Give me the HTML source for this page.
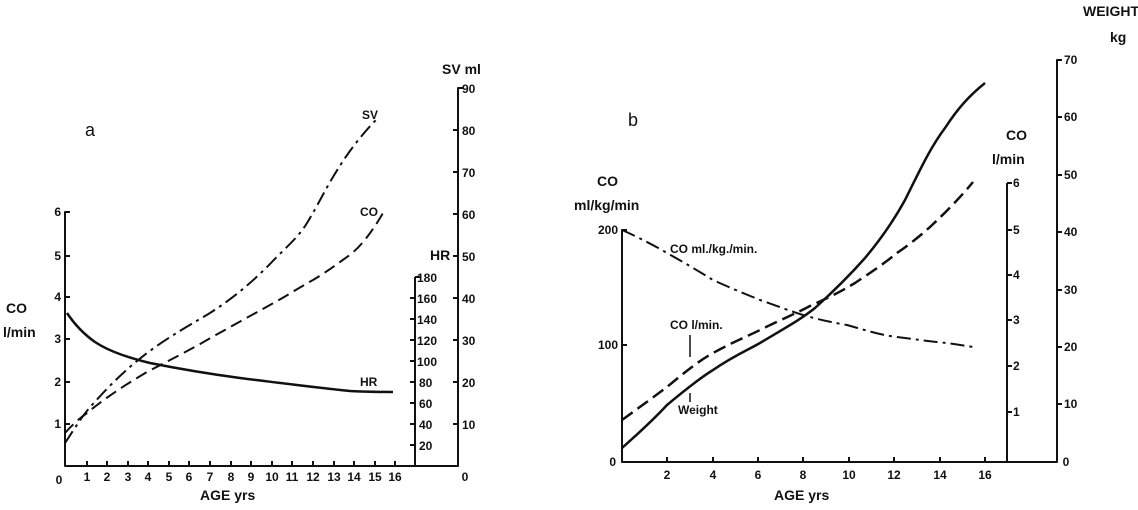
<!DOCTYPE html>
<html><head><meta charset="utf-8"><style>
html,body{margin:0;padding:0;background:#fff;}
svg{display:block;}
text{font-family:"Liberation Sans",sans-serif;font-weight:bold;fill:#111;}
.t{font-size:12px;}
.l{font-size:14px;}
</style></head><body>
<svg width="1138" height="510" viewBox="0 0 1138 510" xmlns="http://www.w3.org/2000/svg">
<g stroke="#111" stroke-width="2" fill="none" stroke-linejoin="round">
<polyline points="70,212 65,212 65,466 458,466 458,88 463,88"/>
<line x1="415" y1="466" x2="415" y2="277"/>
<line x1="415" y1="277" x2="420" y2="277"/>
<path d="M65,256h5M65,297h5M65,339h5M65,382h5M65,424h5"/>
<path d="M87,466v-5M107,466v-5M128,466v-5M148,466v-5M169,466v-5M189,466v-5M210,466v-5M231,466v-5M251,466v-5M272,466v-5M292,466v-5M313,466v-5M334,466v-5M354,466v-5M375,466v-5M395,466v-5"/>
<path d="M410,298h5M410,319h5M410,340h5M410,361h5M410,382h5M410,403h5M410,424h5M410,445h5"/>
<path d="M453,130h5M453,172h5M453,214h5M453,256h5M453,298h5M453,340h5M453,382h5M453,424h5"/>
<path stroke-dasharray="14,5,3,5" d="M65,443 C75,428 82,416 92,405 C110,385 125,370 147,353 C170,336 190,325 210,313 C235,297 252,282 270,264 C285,248 298,238 307,223 C318,205 325,190 333,177 C342,162 350,150 360,138 C368,128 373,123 378,118"/>
<path stroke-dasharray="12,6" d="M65,433 C72,425 80,418 87,413 C105,398 125,385 147,372 C170,360 190,350 207,340 C230,327 250,316 270,305 C290,294 300,287 313,280 C328,271 337,264 347,257 C360,248 372,232 383,213"/>
<path stroke-width="2.5" d="M67,313 C75,325 85,335 95,342 C110,352 130,358 150,363 C180,369 210,374 240,378 C280,383 320,388 350,391 C370,392 385,392 393,392"/>
<polyline points="627,230 622,230 622,462 1057,462 1057,60 1062,60"/>
<line x1="1007" y1="462" x2="1007" y2="183"/>
<line x1="1007" y1="183" x2="1012" y2="183"/>
<path d="M622,345h5"/>
<path d="M667,462v-5M713,462v-5M758,462v-5M803,462v-5M849,462v-5M894,462v-5M940,462v-5M985,462v-5"/>
<path d="M1007,412h5M1007,366h5M1007,320h5M1007,275h5M1007,230h5"/>
<path d="M1057,117h5M1057,175h5M1057,232h5M1057,290h5M1057,347h5M1057,404h5"/>
<path stroke-width="2.5" d="M622,448 C640,432 655,418 667,405 C685,390 700,378 713,370 C735,355 748,350 760,343 C785,328 800,320 815,308 C835,290 850,275 865,258 C880,240 893,222 905,200 C920,170 930,148 945,128 C958,108 970,95 985,83"/>
<path stroke-width="2.5" stroke-dasharray="13,6" d="M622,420 C640,407 655,396 667,387 C685,372 700,360 713,353 C735,341 748,336 760,330 C780,320 795,314 810,306 C830,297 840,292 855,283 C870,273 885,263 897,253 C910,244 920,236 930,227 C945,213 960,198 973,182"/>
<path stroke-dasharray="14,5,3,5" d="M622,230 C640,238 655,246 667,253 C685,263 700,272 713,280 C735,290 748,295 760,300 C780,307 790,311 803,315 C820,320 835,323 847,325 C865,330 880,335 897,337 C920,340 935,342 947,343 C960,345 968,346 973,347"/>
<line x1="690" y1="335" x2="690" y2="357" stroke-width="1.5"/>
<line x1="690" y1="393" x2="690" y2="402" stroke-width="1.5"/>
</g>
<text x="85" y="136" style="font-size:18px;font-weight:normal">a</text>
<g class="t" text-anchor="end">
<text x="61" y="216">6</text><text x="61" y="260">5</text><text x="61" y="301">4</text><text x="61" y="343">3</text><text x="61" y="386">2</text><text x="61" y="428">1</text>
</g>
<g class="t" text-anchor="middle">
<text x="59" y="484">0</text><text x="87" y="481">1</text><text x="107" y="481">2</text><text x="128" y="481">3</text><text x="148" y="481">4</text><text x="169" y="481">5</text><text x="189" y="481">6</text><text x="210" y="481">7</text><text x="231" y="481">8</text><text x="251" y="481">9</text><text x="272" y="481">10</text><text x="292" y="481">11</text><text x="313" y="481">12</text><text x="334" y="481">13</text><text x="354" y="481">14</text><text x="375" y="481">15</text><text x="395" y="481">16</text><text x="465" y="481">0</text>
</g>
<g class="t">
<text x="417" y="282">180</text><text x="417" y="303">160</text><text x="417" y="324">140</text><text x="417" y="345">120</text><text x="417" y="366">100</text><text x="419" y="387">80</text><text x="419" y="408">60</text><text x="419" y="429">40</text><text x="419" y="450">20</text>
<text x="462" y="93">90</text><text x="462" y="135">80</text><text x="462" y="177">70</text><text x="462" y="219">60</text><text x="462" y="261">50</text><text x="462" y="303">40</text><text x="462" y="345">30</text><text x="462" y="387">20</text><text x="462" y="429">10</text>
<text x="362" y="119">SV</text><text x="360" y="216">CO</text><text x="360" y="386">HR</text>
</g>
<text class="l" x="442" y="74">SV ml</text>
<text class="l" x="430" y="260">HR</text>
<text class="l" x="6" y="313">CO</text>
<text class="l" x="3" y="337">l/min</text>
<text class="l" x="200" y="500">AGE yrs</text>
<text x="628" y="126" style="font-size:18px;font-weight:normal">b</text>
<text class="l" x="597" y="186">CO</text>
<text class="l" x="574" y="210">ml/kg/min</text>
<text class="l" x="1006" y="140">CO</text>
<text class="l" x="992" y="164">l/min</text>
<text class="l" x="1083" y="16">WEIGHT</text>
<text class="l" x="1110" y="42">kg</text>
<text class="l" x="774" y="500">AGE yrs</text>
<g class="t" text-anchor="end">
<text x="618" y="234">200</text><text x="618" y="349">100</text><text x="616" y="466">0</text>
</g>
<g class="t" text-anchor="middle">
<text x="667" y="479">2</text><text x="713" y="479">4</text><text x="758" y="479">6</text><text x="803" y="479">8</text><text x="849" y="479">10</text><text x="894" y="479">12</text><text x="940" y="479">14</text><text x="985" y="479">16</text><text x="1066" y="466">0</text>
</g>
<g class="t">
<text x="1013" y="187">6</text><text x="1013" y="234">5</text><text x="1013" y="279">4</text><text x="1013" y="324">3</text><text x="1013" y="370">2</text><text x="1013" y="416">1</text>
<text x="1064" y="64">70</text><text x="1064" y="121">60</text><text x="1064" y="179">50</text><text x="1064" y="236">40</text><text x="1064" y="294">30</text><text x="1064" y="351">20</text><text x="1064" y="408">10</text>
<text x="670" y="253">CO ml./kg./min.</text>
<text x="670" y="329">CO l/min.</text>
<text x="678" y="414">Weight</text>
</g>
</svg>
</body></html>
